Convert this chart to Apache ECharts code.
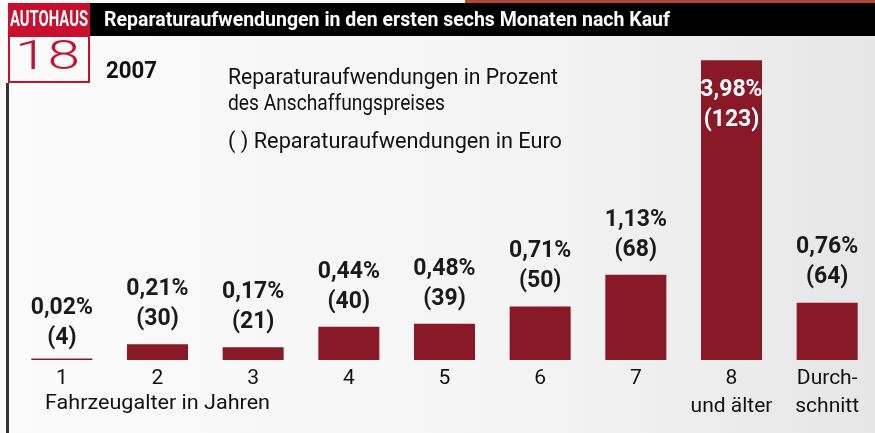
<!DOCTYPE html>
<html><head><meta charset="utf-8">
<script src="https://cdn.jsdelivr.net/npm/echarts@6/dist/echarts.min.js"></script>
<style>html,body{margin:0;padding:0;}#c{width:875px;height:433px;}</style>
</head><body><div id="c"></div>
<script>
const categories = ['1','2','3','4','5','6','7','8\nund älter','Durch-\nschnitt'];
const pct = [0.02,0.21,0.17,0.44,0.48,0.71,1.13,3.98,0.76];
const eur = [4,30,21,40,39,50,68,123,64];
const title = 'Reparaturaufwendungen in den ersten sechs Monaten nach Kauf';
const F = 'Roboto,"DejaVu Sans",sans-serif';
const fmt = v => v.toFixed(2).replace('.', ',') + '%';
const cv = document.createElement('canvas').getContext('2d');
function fit(text, font, w){ cv.font = font; return w / cv.measureText(text).width; }
function txt(text, x, y, font, w, fill, align){
  return {type:'text', x:x, y:y, scaleX: fit(text, font, w), style:{text:text, fill:fill||'#111', font:font, align:align||'left', verticalAlign:'middle'}};
}
const chart = echarts.init(document.getElementById('c'));
const data = pct.map((v,i) => {
  const d = {value: v};
  if (i === 7) d.label = {position:'insideTop', distance: 15, color:'#fff'};
  if (i === 0) d.label = {distance: 5};
  return d;
});
chart.setOption({
  backgroundColor: {type:'linear',x:0,y:0,x2:1,y2:0,colorStops:[{offset:0,color:'#fbfbfb'},{offset:0.6,color:'#f4f4f4'},{offset:1,color:'#e6e6e6'}]},
  animation:false,
  grid:{left:14, right:-4, top:21, bottom:73},
  xAxis:{type:'category', data:categories, axisLine:{show:false}, axisTick:{show:false},
    axisLabel:{fontFamily:F, fontSize:21, color:'#111', margin:5, lineHeight:28, interval:0}},
  yAxis:{type:'value', min:0, max:4.5, show:false, splitLine:{show:false}},
  series:[{type:'bar', data:data, barWidth:61, itemStyle:{color:'#8a1927'},
    label:{show:true, position:'top', distance:10, fontFamily:F, fontWeight:'bold', fontSize:23, lineHeight:30, color:'#1a1a1a',
      formatter: p => fmt(pct[p.dataIndex]) + '\n(' + eur[p.dataIndex] + ')'}}],
  graphic:[
    {type:'rect', shape:{x:465,y:0,width:410,height:3}, style:{fill:'#b5463c'}},
    {type:'rect', shape:{x:90,y:3,width:785,height:33}, style:{fill:'#000'}},
    {type:'rect', shape:{x:8,y:3,width:82,height:33}, style:{fill:'#c8102e'}},
    txt('AUTOHAUS', 10, 20, 'bold 22px '+F, 78, '#fff'),
    {type:'rect', shape:{x:9,y:36,width:80,height:46}, style:{fill:'none', stroke:'#c8102e', lineWidth:2}},
    txt('18', 15, 59, '300 40px Roboto', 65, '#c8102e'),
    {type:'rect', shape:{x:6,y:83,width:3,height:350}, style:{fill:'#333'}},
    txt(title, 104, 21, 'bold 20px '+F, 566, '#fff'),
    txt('2007', 106, 72, 'bold 24px '+F, 51),
    txt('Reparaturaufwendungen in Prozent', 228, 78, '22px '+F, 330),
    txt('des Anschaffungspreises', 228, 104, '22px '+F, 217),
    txt('( ) Reparaturaufwendungen in Euro', 228, 142, '22px '+F, 334),
    txt('Fahrzeugalter in Jahren', 45, 404, '21px '+F, 225)
  ]
});
</script></body></html>
